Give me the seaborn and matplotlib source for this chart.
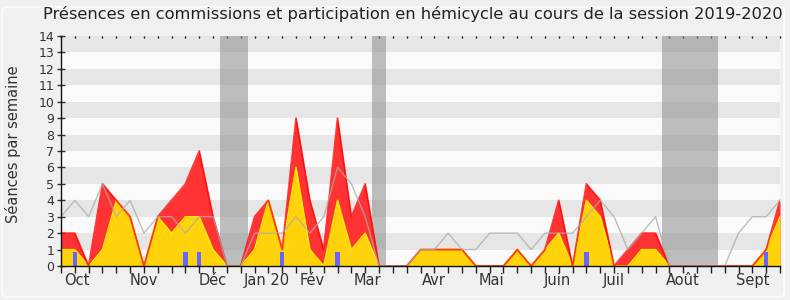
import numpy as np
import pandas as pd
import matplotlib
matplotlib.use("Agg")
import matplotlib.pyplot as plt
from matplotlib.patches import FancyBboxPatch
import seaborn as sns

# ---- data (weekly values, session 2019-2020) ----
weeks = list(range(53))
total_presence = [2, 2, 0, 5, 4, 3, 0, 3, 4, 5, 7, 3, 0, 0, 3, 4, 1, 9, 4, 1,
                  9, 3, 5, 0, 0, 0, 1, 1, 1, 1, 0, 0, 0, 1, 0, 1, 4, 0, 5, 4,
                  0, 1, 2, 2, 0, 0, 0, 0, 0, 0, 0, 1, 4]
hemicycle = [1, 1, 0, 1, 4, 3, 0, 3, 2, 3, 3, 1, 0, 0, 1, 4, 1, 6, 1, 0,
             4, 1, 2, 0, 0, 0, 1, 1, 1, 1, 0, 0, 0, 1, 0, 1, 2, 0, 4, 3,
             0, 0, 1, 1, 0, 0, 0, 0, 0, 0, 0, 1, 3]
median_all = [3, 4, 3, 5, 3, 4, 2, 3, 3, 2, 3, 3, 0, 0, 2, 2, 2, 3, 2, 3,
              6, 5, 3, 0, 0, 0, 1, 1, 2, 1, 1, 2, 2, 2, 1, 2, 2, 2, 3, 4,
              3, 1, 2, 3, 0, 0, 0, 0, 0, 2, 3, 3, 4]
question_weeks = [1, 9, 10, 16, 20, 38, 51]
question_counts = [1, 1, 1, 1, 1, 1, 1]
vacations = [(11.5, 13.5), (22.5, 23.5), (43.5, 47.5)]
month_labels = ["Oct", "Nov", "Déc", "Jan 20", "Fév", "Mar", "Avr", "Mai",
                "Juin", "Juil", "Août", "Sept"]
month_pos = [1.15, 6.0, 11.0, 14.9, 18.15, 22.15, 27.0, 31.15, 35.9, 40.0, 44.95, 50.0]
title = "Présences en commissions et participation en hémicycle au cours de la session 2019-2020"

df = pd.DataFrame({"week": weeks, "total": total_presence,
                   "hemi": hemicycle, "median": median_all})

sns.set_theme(style="white")
plt.rcParams["font.family"] = ["DejaVu Sans"]

W, H = 790, 300
fig = plt.figure(figsize=(W / 100, H / 100), dpi=100, facecolor="#F0F0F0")
frame = FancyBboxPatch((2 / W, 3 / H), 782 / W, 290 / H,
                       boxstyle="round,pad=0,rounding_size=0.01",
                       transform=fig.transFigure, facecolor="none",
                       edgecolor="#FBFBFB", lw=1.2, zorder=0)
fig.patches.append(frame)

ax = fig.add_axes([61 / W, 34 / H, 719 / W, 230 / H])
ax.set_facecolor("#FAFAFA")
ax.set_xlim(0, 52)
ax.set_ylim(0, 14)

# horizontal bands
for k in range(7):
    ax.axhspan(2 * k + 1, 2 * k + 2, color="#E6E6E6", lw=0, zorder=0)

# vacation shading
for a, b in vacations:
    ax.axvspan(a, b, color="#8C8C8C", alpha=0.55, lw=0, zorder=1)

# areas
ax.fill_between(df["week"], 0, df["total"], color="#FF3333", lw=0, zorder=2)
ax.fill_between(df["week"], 0, df["hemi"], color="#FFD20A", lw=0, zorder=3)
ax.plot(df["week"], df["hemi"], color="#FFF200", lw=1.0, zorder=4)
ax.plot(df["week"], df["total"], color="#FF0000", lw=1.3, alpha=0.75, zorder=5)

# median line
sns.lineplot(data=df, x="week", y="median", ax=ax, color="#AAAAAA",
             lw=1.0, alpha=0.75, zorder=6)

# questions bars
ax.bar(question_weeks, np.array(question_counts) * 0.85, width=0.32,
       color="#6666FF", lw=0, zorder=7)

# axes styling
for s in ["top", "right"]:
    ax.spines[s].set_visible(False)
for s in ["left", "bottom"]:
    ax.spines[s].set_color("#111111")
    ax.spines[s].set_linewidth(1.0)
    ax.spines[s].set_zorder(8)

ax.xaxis.remove_overlapping_locs = False
ax.set_xticks(month_pos)
ax.set_xticklabels(month_labels)
ax.tick_params(axis="x", which="major", length=0, pad=5, labelsize=10.5,
               labelcolor="#333333")
ax.set_xticks(weeks, minor=True)
ax.tick_params(axis="x", which="minor", direction="out", length=5, width=1,
               color="#222222", bottom=True)

top = ax.secondary_xaxis("top")
top.set_xticks(weeks)
top.set_xticklabels([])
top.tick_params(direction="in", length=1.5, width=1, color="#111111")
top.spines["top"].set_visible(False)

ax.set_yticks(range(15))
ax.set_yticklabels([str(v) for v in range(15)])
ax.tick_params(axis="y", direction="inout", length=6, width=1,
               color="#333333", labelsize=9, labelcolor="#333333", pad=2, left=True)

ax.set_xlabel("")
ax.set_ylabel("Séances par semaine", fontsize=10.5, color="#333333")
ax.yaxis.set_label_coords(-0.056, 0.53)

fig.text(0.522, 1 - 14 / H, title, ha="center", va="center", fontsize=11.7,
         color="#222222")

fig.savefig("out.png", dpi=100, facecolor=fig.get_facecolor())
